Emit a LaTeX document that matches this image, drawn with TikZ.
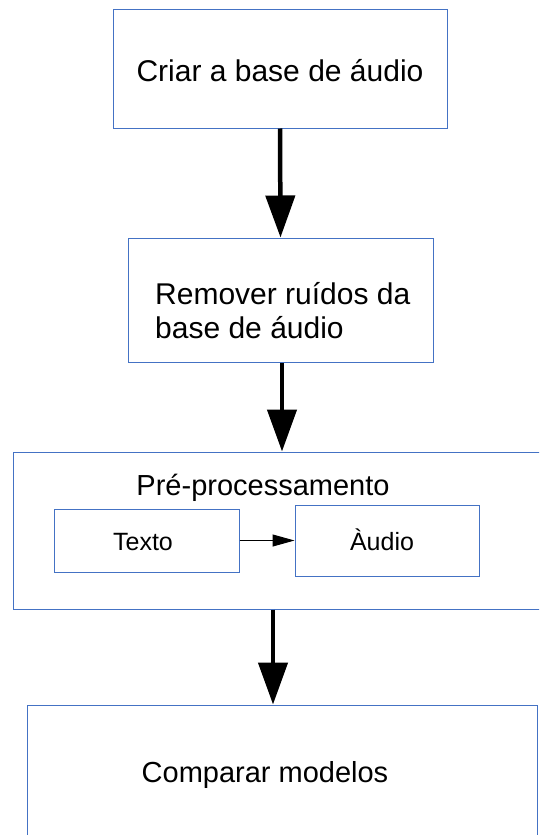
\documentclass[tikz,border=0pt]{standalone}
\usepackage{fontspec}
\setmainfont{Liberation Sans}
\usetikzlibrary{arrows.meta}
\definecolor{boxblue}{RGB}{68,114,196}
\begin{document}
\begin{tikzpicture}[x=1pt,y=-1pt,
  box/.style={draw=boxblue,line width=1pt,inner sep=0pt,rectangle},
  lbl/.style={inner sep=0pt,anchor=base,font=\fontsize{30}{34}\selectfont},
  lblsmall/.style={inner sep=0pt,anchor=base,font=\fontsize{25}{29}\selectfont},
  bigarrow/.style={draw=black,line width=4.5pt,-{Triangle[length=42pt,width=29pt]}},
  thinarrow/.style={draw=black,line width=1pt,-{Triangle[length=22pt,width=12pt]}}]
\useasboundingbox (0,0) rectangle (539,835);
\clip (0,0) rectangle (539,835);
\fill[white] (0,0) rectangle (539,835);
% boxes
\node[box,minimum width=334pt,minimum height=119pt] (b1) at (280,68.5) {};
\node[box,minimum width=305pt,minimum height=124pt] (b2) at (280.5,300) {};
\node[box,minimum width=534pt,minimum height=157pt] (b3) at (280,530.5) {};
\node[box,minimum width=185pt,minimum height=63pt] (tx) at (146.5,540.5) {};
\node[box,minimum width=184pt,minimum height=71pt] (au) at (387,540.5) {};
\node[box,minimum width=510pt,minimum height=145pt] (b4) at (282,777.5) {};
% texts
\node[lbl] (t1) at (280,81) {Criar a base de áudio};
\node[lbl,anchor=base west] (t2a) at (155,304) {Remover ruídos da};
\node[lbl,anchor=base west] (t2b) at (155,338) {base de áudio};
\node[lbl,font=\fontsize{29}{33}\selectfont] (t3) at (263,495) {Pré-processamento};
\node[lblsmall] (t4) at (143,550) {Texto};
\node[lblsmall] (t5) at (382,550) {Àudio};
\node[lbl,font=\fontsize{29}{33}\selectfont] (t6) at (265,782) {Comparar modelos};
% connectors
\draw[bigarrow] (b1.south) -- (b2.north);
\draw[bigarrow] ([xshift=1.5pt]b2.south) -- ([xshift=2pt]b3.north);
\draw[bigarrow] ([xshift=-7pt]b3.south) -- ([xshift=-9pt]b4.north);
\draw[thinarrow] (tx.east) -- (au.west);
\end{tikzpicture}
\end{document}
